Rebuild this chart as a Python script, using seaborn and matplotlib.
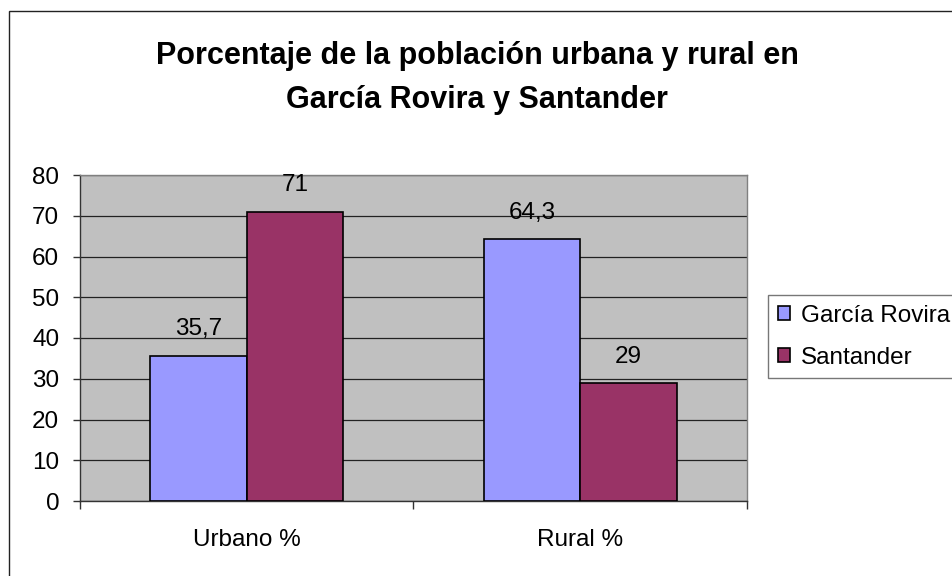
import matplotlib
matplotlib.use('Agg')
import matplotlib.pyplot as plt
import seaborn as sns
import pandas as pd
from matplotlib.patches import Rectangle

# Data
categories = ['Urbano %', 'Rural %']
series = ['García Rovira', 'Santander']
garcia_rovira = [35.7, 64.3]
santander = [71, 29]
colors = ['#9999FF', '#993366']

df = pd.DataFrame({
    'categoria': categories * 2,
    'serie': [series[0]] * 2 + [series[1]] * 2,
    'valor': garcia_rovira + santander,
})

sns.set_style('white')
plt.rcParams['font.family'] = ['Liberation Sans', 'DejaVu Sans']
plt.rcParams['text.color'] = 'black'
plt.rcParams['xtick.color'] = 'black'
plt.rcParams['ytick.color'] = 'black'

FS = 17.5

fig = plt.figure(figsize=(9.53, 5.76), dpi=100)
ax = fig.add_axes([80 / 953, 75 / 576, 667 / 953, 326 / 576])

sns.barplot(data=df, x='categoria', y='valor', hue='serie', order=categories,
            hue_order=series, palette=colors, width=0.58, edgecolor='black',
            linewidth=1.2, saturation=1, ax=ax, zorder=3)

# Data labels with decimal comma
for cont in ax.containers:
    labels = [f'{v:g}'.replace('.', ',') for v in cont.datavalues]
    ax.bar_label(cont, labels=labels, padding=11, fontsize=FS, color='black')

ax.set_facecolor('#C0C0C0')
ax.set_ylim(0, 80)
ax.set_xlim(-0.5, 1.5)
ax.set_yticks(range(0, 81, 10))
ax.yaxis.grid(True, color='#222222', linewidth=0.9, zorder=0)
ax.set_axisbelow(True)
ax.set_xlabel('')
ax.set_ylabel('')
ax.tick_params(axis='y', labelsize=FS, length=5, width=1, direction='out', left=True, color='#333333', pad=10)
ax.tick_params(axis='x', labelsize=FS, length=0, pad=20)
ax.set_xticks([-0.5, 0.5, 1.5], minor=True)
ax.tick_params(axis='x', which='minor', length=6, width=1, bottom=True, direction='out', color='#333333')
for side in ['top', 'right']:
    ax.spines[side].set_color('#808080')
    ax.spines[side].set_linewidth(1)
for side in ['left', 'bottom']:
    ax.spines[side].set_color('#333333')
    ax.spines[side].set_linewidth(1)

leg = ax.legend(loc='upper left', bbox_to_anchor=(768 / 953, 1 - 295 / 576),
                bbox_transform=fig.transFigure, fontsize=FS, frameon=True,
                fancybox=False, handlelength=0.5, handleheight=0.5,
                handletextpad=0.45, borderpad=0.4, labelspacing=0.82,
                borderaxespad=0)
leg.get_frame().set_edgecolor('#555555')
leg.get_frame().set_linewidth(1)
for h in leg.legend_handles:
    h.set_edgecolor('black')

fig.text(477 / 953, 1 - 41 / 576,
         'Porcentaje de la población urbana y rural en\nGarcía Rovira y Santander',
         ha='center', va='top', fontsize=22, fontweight='bold', linespacing=1.6)

# Chart area border (left and top visible)
fig.patches.append(Rectangle((9 / 953, -0.1), 1.2, 1 - 11 / 576 + 0.1,
                             transform=fig.transFigure, fill=False,
                             edgecolor='#222222', linewidth=1))

fig.savefig('out.png', dpi=100)
